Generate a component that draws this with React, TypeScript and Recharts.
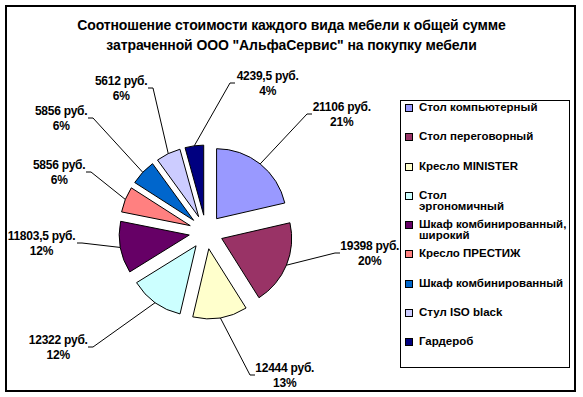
import React from 'react';
import { Legend, Pie, PieChart, Sector } from 'recharts';

const categories = [
  'Стол компьютерный',
  'Стол переговорный',
  'Кресло MINISTER',
  'Стол\nэргономичный',
  'Шкаф комбинированный,\nширокий',
  'Кресло ПРЕСТИЖ',
  'Шкаф комбинированный',
  'Стул ISO black',
  'Гардероб',
];
const costs = [21106, 19398, 12444, 12322, 11803.5, 5856, 5856, 5612, 4239.5];
const colors = ['#9999FF', '#993366', '#FFFFCC', '#CCFFFF', '#660066', '#FF8080', '#0066CC', '#CCCCFF', '#000080'];

// where each label's leader line bends, relative to the pie centre
const labelElbow: [number, number][] = [
  [101, -118],
  [129, 21],
  [44, 143],
  [-113, 115],
  [-124, 11],
  [-115, -60],
  [-113, -114],
  [-53, -144],
  [24, -149],
];

const data = categories.map((name, i) => ({ name, value: costs[i], fill: colors[i] }));

const FONT = '"Liberation Sans", Arial, sans-serif';
const RAD = Math.PI / 180;
const EXPLODE = 17;

const ExplodedSector = (props: any) => {
  const { cx, cy, midAngle } = props;
  const a = -midAngle * RAD;
  return <Sector {...props} cx={cx + EXPLODE * Math.cos(a)} cy={cy + EXPLODE * Math.sin(a)} />;
};

const renderLabel = (p: any) => {
  const { cx, cy, midAngle, outerRadius, percent, index, value } = p;
  const [dx, dy] = labelElbow[index];
  const a = -midAngle * RAD;
  const sx = cx + (outerRadius + EXPLODE) * Math.cos(a);
  const sy = cy + (outerRadius + EXPLODE) * Math.sin(a);
  const ex = cx + dx;
  const ey = cy + dy;
  const right = dx > 0;
  const hx = ex + (right ? 5 : -5);
  const line1 = `${String(value).replace('.', ',')} руб.`;
  const w = line1.length * 5.75;
  const tx = right ? ex + 6 + w / 2 : ex - 6 - w / 2;
  return (
    <g>
      <polyline points={`${sx},${sy} ${ex},${ey} ${hx},${ey}`} stroke="#000" strokeWidth={1} fill="none" />
      <text
        x={tx}
        y={ey}
        textAnchor="middle"
        fontSize={12}
        fontWeight="bold"
        fontFamily={FONT}
        letterSpacing={-0.25}
        fill="#000"
      >
        <tspan x={tx} dy={-3}>{line1}</tspan>
        <tspan x={tx} dy={15}>{`${Math.round(percent * 100)}%`}</tspan>
      </text>
    </g>
  );
};

const renderLegend = () => (
  <div style={{ fontFamily: FONT, fontSize: 11.5, fontWeight: 'bold', color: '#000', paddingTop: 1 }}>
    {data.map((d) => (
      <div key={d.name} style={{ height: 29.25, display: 'flex', alignItems: 'flex-start' }}>
        <span
          style={{
            width: 6,
            height: 6,
            background: d.fill,
            border: '1px solid #000',
            marginLeft: 4,
            marginRight: 6,
            marginTop: 2,
            flex: 'none',
          }}
        />
        <span style={{ whiteSpace: 'pre', lineHeight: '11px' }}>{d.name}</span>
      </div>
    ))}
  </div>
);

export default function App() {
  return (
    <div style={{ position: 'absolute', left: 0, top: 0, width: 583, height: 397, background: '#fff' }}>
      <div
        style={{
          position: 'absolute',
          left: 5,
          top: 5,
          width: 567,
          height: 383,
          border: '2px solid #000',
        }}
      />
      <div
        style={{
          position: 'absolute',
          left: 0,
          top: 15,
          width: 583,
          textAlign: 'center',
          fontFamily: FONT,
          fontWeight: 'bold',
          fontSize: 14,
          lineHeight: '20px',
          letterSpacing: -0.1,
        }}
      >
        Соотношение стоимости каждого вида мебели к общей сумме
        <br />
        затраченной ООО "АльфаСервис" на покупку мебели
      </div>
      <PieChart width={583} height={397} style={{ position: 'absolute', left: 0, top: 0 }}>
        <Pie
          data={data}
          dataKey="value"
          nameKey="name"
          cx={201}
          cy={227}
          outerRadius={70}
          startAngle={90}
          endAngle={-270}
          stroke="#000"
          strokeWidth={1}
          shape={ExplodedSector}
          label={renderLabel}
          labelLine={false}
          isAnimationActive={false}
        />
        <Legend
          content={renderLegend}
          wrapperStyle={{
            left: 400,
            top: 100,
            width: 170,
            height: 268,
            border: '1px solid #000',
            boxSizing: 'border-box',
            background: '#fff',
          }}
        />
      </PieChart>
    </div>
  );
}
